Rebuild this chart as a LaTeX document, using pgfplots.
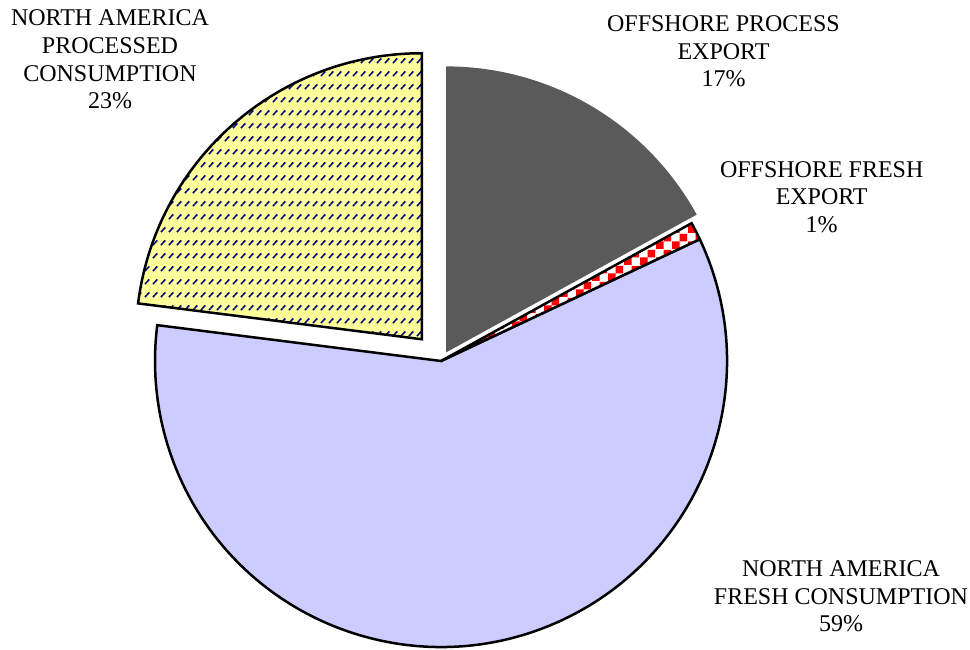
\documentclass[border=0pt]{standalone}
\usepackage{pgfplots}
\pgfplotsset{compat=1.18}
\usepackage{pgfplotstable}
\usetikzlibrary{patterns.meta}
\usepackage{fontspec}
\setmainfont{Liberation Serif}

\definecolor{slicegray}{HTML}{5A5A5A}
\definecolor{sliceblue}{HTML}{CCCCFF}
\definecolor{sliceyellow}{HTML}{FFFF99}
\definecolor{navyc}{HTML}{000080}

\pgfdeclarepattern{
  name=mychecker, type=uncolored,
  bottom left={\pgfpoint{0pt}{0pt}}, top right={\pgfpoint{16pt}{16pt}},
  tile size={\pgfpoint{16pt}{16pt}},
  code={
    \pgfpathrectangle{\pgfpoint{0pt}{0pt}}{\pgfpoint{8pt}{8pt}}
    \pgfpathrectangle{\pgfpoint{8pt}{8pt}}{\pgfpoint{8pt}{8pt}}
    \pgfusepath{fill}
  }
}
\pgfdeclarepattern{
  name=mydash, type=uncolored,
  bottom left={\pgfpoint{0pt}{0pt}}, top right={\pgfpoint{8pt}{13pt}},
  tile size={\pgfpoint{8pt}{13pt}},
  code={
    \pgfsetlinewidth{1.7pt}
    \pgfpathmoveto{\pgfpoint{1pt}{1pt}}
    \pgfpathlineto{\pgfpoint{6pt}{6pt}}
    \pgfusepath{stroke}
  }
}

\tikzset{
  slice0/.style={fill=slicegray, draw=none},
  slice1/.style={preaction={fill=white}, pattern=mychecker, pattern color=red, draw=black, line width=2.5pt},
  slice2/.style={fill=sliceblue, draw=black, line width=2.5pt},
  slice3/.style={preaction={fill=sliceyellow}, pattern=mydash, pattern color=navyc, draw=black, line width=2.5pt},
  lab/.style={align=center, inner sep=0pt, font=\fontsize{24}{27.7}\selectfont}
}

% value = percent share, explode = offset of the slice from the centre
\pgfplotstableread{
name value explode
OffshoreProcessExport 17 10
OffshoreFreshExport 1 0
NAFreshConsumption 59 0
NAProcessedConsumption 23 29
}\piedata

\newcommand{\pieslice}[4]{%
  \pgfmathsetmacro{\sa}{90-3.6*(#1)}%
  \pgfmathsetmacro{\ea}{90-3.6*((#1)+(#2))}%
  \pgfmathsetmacro{\ma}{(\sa+\ea)/2}%
  \pgfmathsetmacro{\cx}{441+(#3)*cos(\ma)}%
  \pgfmathsetmacro{\cy}{288+(#3)*sin(\ma)}%
  \edef\temp{\noexpand\path[#4] (axis cs:\cx,\cy) -- ++(\sa:286pt) arc[start angle=\sa, end angle=\ea, radius=286pt] -- cycle;}%
  \temp
}

\begin{document}
\begin{tikzpicture}
\useasboundingbox (0,0) rectangle (970pt,649pt);
\begin{axis}[
  width=970pt, height=649pt, scale only axis,
  xmin=0, xmax=970, ymin=0, ymax=649,
  hide axis, clip=false
]
\pgfplotstablegetelem{0}{value}\of\piedata \let\vA\pgfplotsretval
\pgfplotstablegetelem{1}{value}\of\piedata \let\vB\pgfplotsretval
\pgfplotstablegetelem{2}{value}\of\piedata \let\vC\pgfplotsretval
\pgfplotstablegetelem{3}{value}\of\piedata \let\vD\pgfplotsretval
\pgfplotstablegetelem{0}{explode}\of\piedata \let\eA\pgfplotsretval
\pgfplotstablegetelem{1}{explode}\of\piedata \let\eB\pgfplotsretval
\pgfplotstablegetelem{2}{explode}\of\piedata \let\eC\pgfplotsretval
\pgfplotstablegetelem{3}{explode}\of\piedata \let\eD\pgfplotsretval

\pieslice{0}{\vA}{\eA}{slice0}
\pieslice{\vA+\vB}{\vC}{\eC}{slice2}
\pieslice{\vA}{\vB}{\eB}{slice1}
\pieslice{\vA+\vB+\vC}{\vD}{\eD}{slice3}

\node[lab] at (axis cs:723.5,597.5) {OFFSHORE PROCESS\\EXPORT\\17\%};
\node[lab] at (axis cs:821.7,452) {OFFSHORE FRESH\\EXPORT\\1\%};
\node[lab] at (axis cs:841,52.5) {NORTH AMERICA\\FRESH CONSUMPTION\\59\%};
\node[lab] at (axis cs:110,589.5) {NORTH AMERICA\\PROCESSED\\CONSUMPTION\\23\%};
\end{axis}
\end{tikzpicture}
\end{document}
